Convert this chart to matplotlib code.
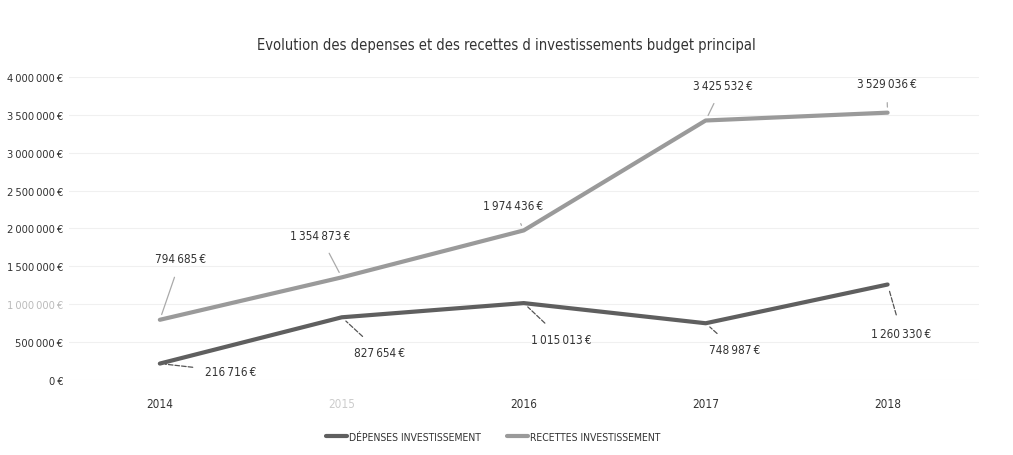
import matplotlib.pyplot as plt
from matplotlib.ticker import FuncFormatter

# narrow look of the scan: DejaVu Sans Condensed
plt.rcParams['font.family'] = ['DejaVu Sans']
plt.rcParams['font.stretch'] = 'condensed'

# data
years = ['2014', '2015', '2016', '2017', '2018']
depenses = [216716, 827654, 1015013, 748987, 1260330]
recettes = [794685, 1354873, 1974436, 3425532, 3529036]

# label offsets (pixels) for the data labels
off_dep = [(71, -8), (38, -35), (38, -36), (29, -26), (14, -49)]
off_rec = [(21, 61), (-22, 42), (-11, 25), (17, 35), (-1, 29)]


def euro(v):
    # thin spaces, as in the tight Excel labels
    s = f'{int(v):,}'.replace(',', '\u2009')
    return s + '\u2009€'


fig = plt.figure(figsize=(10.13, 4.56), dpi=100)
ax = fig.add_axes([0.068, 0.1645, 0.898, 0.6645])

x = range(len(years))
ax.plot(x, depenses, color='#5f5f5f', lw=3, solid_capstyle='round', zorder=3,
        label='DÉPENSES INVESTISSEMENT')
ax.plot(x, recettes, color='#9a9a9a', lw=3, solid_capstyle='round', zorder=3,
        label='RECETTES INVESTISSEMENT')

for xi, v, off in zip(x, recettes, off_rec):
    ax.annotate(euro(v), (xi, v), xytext=off, textcoords='offset pixels',
                ha='center', va='center', fontsize=8.5, color='#333333',
                arrowprops=dict(arrowstyle='-', color='#aaaaaa', lw=0.9,
                                shrinkA=7, shrinkB=4))
for xi, v, off in zip(x, depenses, off_dep):
    ax.annotate(euro(v), (xi, v), xytext=off, textcoords='offset pixels',
                ha='center', va='center', fontsize=8.5, color='#333333',
                arrowprops=dict(arrowstyle='-', color='#555555', lw=0.9, ls='--',
                                shrinkA=7, shrinkB=4))

ax.set_xlim(-0.5, 4.5)
ax.set_ylim(0, 4000000)
ax.set_yticks(range(0, 4000001, 500000))
ax.yaxis.set_major_formatter(FuncFormatter(lambda v, p: euro(v)))
ax.set_xticks(list(x))
ax.set_xticklabels(years)
ax.tick_params(length=0, labelsize=8.5, labelcolor='#333333')
ax.tick_params(axis='x', pad=12)
ax.tick_params(axis='y', pad=4, labelsize=8)
ax.get_xticklabels()[1].set_color('#cccccc')
ax.get_yticklabels()[2].set_color('#bbbbbb')
ax.grid(axis='y', color='#f0f0f0', lw=0.8)
for sp in ax.spines.values():
    sp.set_visible(False)

fig.text(0.5, 0.90, 'Evolution des depenses et des recettes d investissements budget principal',
         ha='center', va='center', fontsize=10.5, color='#333333')

fig.legend(loc='center', bbox_to_anchor=(0.487, 0.04), ncol=2, frameon=False,
           fontsize=7.5, handlelength=2.0, handletextpad=0.2, columnspacing=2.5,
           labelcolor='#333333')

fig.savefig('out.png', dpi=100)
